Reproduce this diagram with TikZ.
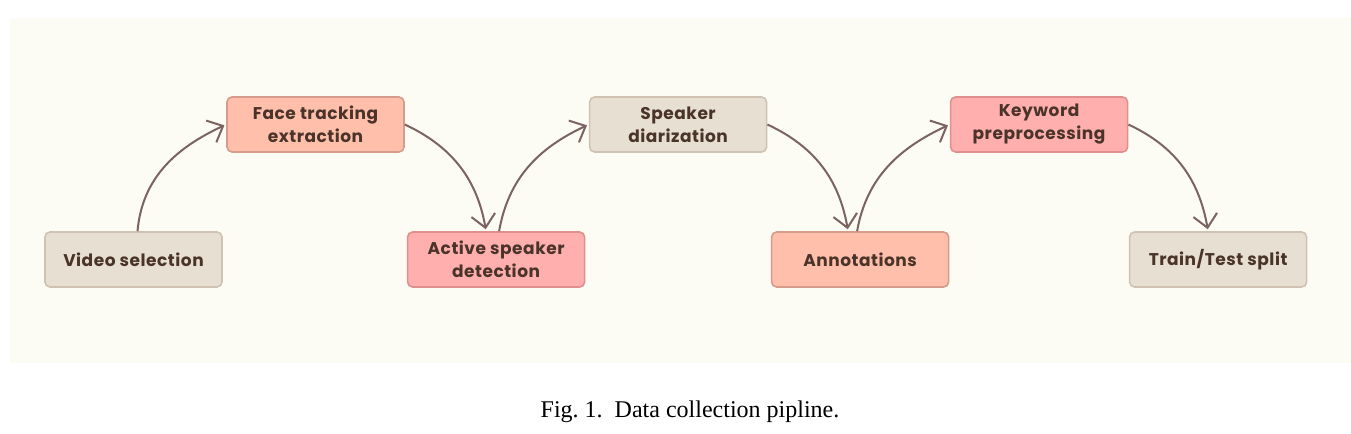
\documentclass[tikz,border=0pt]{standalone}
\usepackage{fontspec}
\setmainfont{Liberation Serif}
\newfontfamily\stagefont[LetterSpace=3]{Poppins}
\usetikzlibrary{arrows,arrows.meta,positioning}
\definecolor{panel}{HTML}{FCFCF4}
\definecolor{beige}{HTML}{E8DFD3}
\definecolor{beigeline}{HTML}{CFC2B3}
\definecolor{salmon}{HTML}{FFBFAB}
\definecolor{salmonline}{HTML}{D59B8B}
\definecolor{rose}{HTML}{FFAFAE}
\definecolor{roseline}{HTML}{DE8F8E}
\definecolor{ink}{HTML}{4A3429}
\definecolor{brownline}{HTML}{7B6460}

\begin{document}
\begin{tikzpicture}[x=0.5pt,y=-0.5pt,->,>={Straight Barb[length=6.5pt,width=12pt]},
                    shorten >=1pt,on grid]
  \tikzstyle{stage}=[rectangle,rounded corners=2.5pt,line width=0.8pt,
                     minimum width=88.5pt,minimum height=27.5pt,align=center,
                     text=ink,font=\stagefont\bfseries\fontsize{8.5}{11.5}\selectfont]
  \tikzstyle{plain}=[stage,fill=beige,draw=beigeline]
  \tikzstyle{warm}=[stage,fill=salmon,draw=salmonline]
  \tikzstyle{hot}=[stage,fill=rose,draw=roseline]
  \tikzstyle{flow}=[draw=brownline,line width=1pt]

  \useasboundingbox (0,0) rectangle (1351,434);
  \fill[panel] (10,18) rectangle (1351,363);

  \node[plain] (0) at (133.5,259.5)          {Video selection};
  \node[warm]  (1) [above right=67.5pt and 91pt of 0] {Face tracking\\extraction};
  \node[hot]   (2) [right=181.3pt of 0]      {Active speaker\\detection};
  \node[plain] (3) [right=181.3pt of 1]      {Speaker\\diarization};
  \node[warm]  (4) [right=182pt of 2]        {Annotations};
  \node[hot]   (5) [right=180.5pt of 3]      {Keyword\\preprocessing};
  \node[plain] (6) [right=179pt of 4]        {Train/Test split};

  \path ([xshift=2pt]0.north)  edge[flow,out=85,in=205]  (1.west)
        (1.east)               edge[flow,out=-25,in=100] ([xshift=-5pt]2.north)
        ([xshift=1.5pt]2.north) edge[flow,out=80,in=205] (3.west)
        (3.east)               edge[flow,out=-25,in=100] ([xshift=-6pt]4.north)
        ([xshift=-1.5pt]4.north) edge[flow,out=80,in=205] (5.west)
        (5.east)               edge[flow,out=-25,in=100] ([xshift=-5pt]6.north);

  \node (cap) [anchor=base] at (690,417) {\fontsize{12}{14}\selectfont Fig.~1.\enspace Data collection pipline.};
\end{tikzpicture}
\end{document}
